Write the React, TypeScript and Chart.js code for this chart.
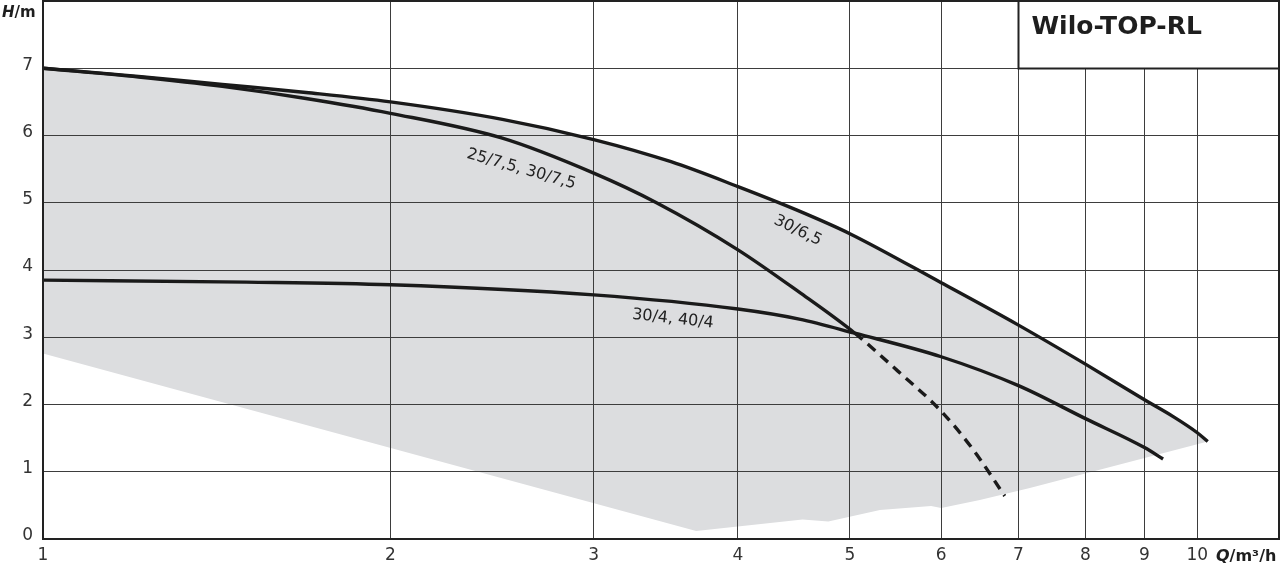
import React, { useEffect, useRef } from "react";
import { Chart, registerables } from "chart.js";

Chart.register(...registerables);

// ---- data ----
const xTicks = [1, 2, 3, 4, 5, 6, 7, 8, 9, 10];
const yTicks = [0, 1, 2, 3, 4, 5, 6, 7, 8];

// 30/6,5
const q65 = [1.0, 1.21, 1.43, 1.69, 2.0, 2.5, 3.0, 3.5, 4.0, 4.5, 5.0, 6.0, 7.0, 8.0, 9.0, 9.53, 10.0, 10.21];
const h65 = [7.0, 6.88, 6.76, 6.64, 6.5, 6.24, 5.94, 5.61, 5.24, 4.89, 4.54, 3.81, 3.18, 2.6, 2.07, 1.82, 1.58, 1.45];

// 25/7,5, 30/7,5 (dashed beyond dashFromQ)
const q75 = [1.0, 1.21, 1.43, 1.69, 2.0, 2.5, 3.0, 3.4, 4.0, 4.52, 5.05, 5.5, 6.0, 6.4, 6.81];
const h75 = [7.0, 6.87, 6.73, 6.55, 6.33, 5.96, 5.44, 5.0, 4.3, 3.67, 3.06, 2.5, 1.9, 1.32, 0.64];
const dashFromQ = 5.05;

// 30/4, 40/4
const q4 = [1.0, 1.5, 2.0, 3.0, 4.0, 4.52, 5.05, 6.0, 7.0, 8.0, 9.0, 9.34];
const h4 = [3.85, 3.82, 3.78, 3.63, 3.42, 3.27, 3.06, 2.71, 2.28, 1.79, 1.36, 1.19];

// lower edge of the grey operating range
const qLow = [1.0, 3.68, 4.55, 4.79, 5.31, 5.88, 6.0, 6.48, 7.16, 10.21];
const hLow = [2.76, 0.12, 0.29, 0.26, 0.43, 0.49, 0.46, 0.58, 0.76, 1.45];

// curve labels
const labelTexts = ["25/7,5, 30/7,5", "30/6,5", "30/4, 40/4"];
const labelQ = [2.59, 4.49, 3.51];
const labelH = [5.44, 4.53, 3.21];
const labelAngle = [16, 26, 6.3];

const titleText = "Wilo-TOP-RL";
const yUnit = ["H", "/m"];
const xUnit = ["Q", "/m³/h"];

const pts = (qs: number[], hs: number[]) => qs.map((q, i) => ({ x: q, y: hs[i] }));

const FONT = '"DejaVu Sans", sans-serif';

const decoPlugin = {
  id: "deco",
  afterDraw(chart: any) {
    const { ctx, chartArea: a, scales } = chart;
    const x = scales.x;
    const y = scales.y;
    ctx.save();

    // curve labels
    ctx.fillStyle = "#222";
    ctx.font = `16px ${FONT}`;
    ctx.textAlign = "center";
    ctx.textBaseline = "alphabetic";
    labelTexts.forEach((t, i) => {
      ctx.save();
      ctx.translate(x.getPixelForValue(labelQ[i]), y.getPixelForValue(labelH[i]));
      ctx.rotate((labelAngle[i] * Math.PI) / 180);
      ctx.fillText(t, 0, 0);
      ctx.restore();
    });

    // plot border
    ctx.strokeStyle = "#222";
    ctx.lineWidth = 2;
    ctx.strokeRect(a.left, a.top, a.right - a.left, a.bottom - a.top);

    // title box
    const bx = Math.round(x.getPixelForValue(7)) + 0.5;
    const by = Math.round(y.getPixelForValue(7)) + 0.5;
    ctx.fillStyle = "#fff";
    ctx.fillRect(bx, a.top, a.right - bx, by - a.top);
    ctx.strokeRect(bx, a.top, a.right - bx, by - a.top);
    ctx.fillStyle = "#1e1e1e";
    ctx.font = `bold 25px ${FONT}`;
    ctx.textAlign = "left";
    ctx.fillText(titleText, bx + 13, 34);

    // axis units
    const drawUnit = (parts: string[], left: number, base: number, size: number) => {
      ctx.fillStyle = "#1e1e1e";
      ctx.textAlign = "left";
      ctx.font = `italic bold ${size}px ${FONT}`;
      ctx.fillText(parts[0], left, base);
      const w = ctx.measureText(parts[0]).width;
      ctx.font = `bold ${size}px ${FONT}`;
      ctx.fillText(parts[1], left + w, base);
    };
    drawUnit(yUnit, 2, 17, 15);
    drawUnit(xUnit, 1216, 561, 16);

    ctx.restore();
  },
};

export default function App() {
  const ref = useRef<HTMLCanvasElement>(null);

  useEffect(() => {
    if (!ref.current) return;
    const chart = new Chart(ref.current, {
      type: "line",
      data: {
        datasets: [
          {
            label: "30/6,5",
            data: pts(q65, h65),
            borderColor: "#1a1a1a",
            borderWidth: 3.4,
            pointRadius: 0,
            cubicInterpolationMode: "monotone",
            fill: 1,
            backgroundColor: "#dcdddf",
          } as any,
          {
            label: "range",
            data: pts(qLow, hLow),
            borderColor: "rgba(0,0,0,0)",
            borderWidth: 1,
            pointRadius: 0,
            tension: 0,
            fill: false,
          },
          {
            label: "25/7,5, 30/7,5",
            data: pts(q75, h75),
            borderColor: "#1a1a1a",
            borderWidth: 3.4,
            pointRadius: 0,
            cubicInterpolationMode: "monotone",
            fill: false,
            segment: {
              borderDash: (c: any) => (c.p0.parsed.x >= dashFromQ - 1e-6 ? [10, 7] : undefined),
            },
          } as any,
          {
            label: "30/4, 40/4",
            data: pts(q4, h4),
            borderColor: "#1a1a1a",
            borderWidth: 3.4,
            pointRadius: 0,
            cubicInterpolationMode: "monotone",
            fill: false,
          },
        ],
      },
      options: {
        responsive: false,
        animation: false,
        devicePixelRatio: 1,
        events: [],
        layout: { padding: { top: 1, right: 1, left: 0, bottom: 0 } },
        plugins: {
          legend: { display: false },
          tooltip: { enabled: false },
          filler: { drawTime: "beforeDraw" } as any,
        },
        scales: {
          x: {
            type: "logarithmic",
            min: 1,
            max: 11.77,
            afterBuildTicks: (s: any) => {
              s.ticks = xTicks.map((v) => ({ value: v }));
            },
            afterFit: (s: any) => {
              s.height = 28;
              s.paddingLeft = 0;
              s.paddingRight = 0;
            },
            grid: { color: "#3d3d3d", lineWidth: 1, drawTicks: false },
            border: { display: false },
            ticks: {
              autoSkip: false,
              maxRotation: 0,
              padding: 6,
              color: "#333",
              font: { family: FONT, size: 17 },
              callback: (v: any) => String(v),
            },
          },
          y: {
            type: "linear",
            min: 0,
            max: 8,
            afterBuildTicks: (s: any) => {
              s.ticks = yTicks.map((v) => ({ value: v }));
            },
            afterFit: (s: any) => {
              s.width = 43;
              s.paddingTop = 0;
              s.paddingBottom = 0;
            },
            grid: { color: "#3d3d3d", lineWidth: 1, drawTicks: false },
            border: { display: false },
            ticks: {
              autoSkip: false,
              padding: 10,
              labelOffset: -3,
              color: "#333",
              font: { family: FONT, size: 17 },
              callback: (v: any) => (v === 8 ? "" : String(v)),
            },
          },
        },
      } as any,
      plugins: [decoPlugin],
    });
    return () => chart.destroy();
  }, []);

  return (
    <div style={{ position: "fixed", left: 0, top: 0, width: 1280, height: 567, background: "#fff" }}>
      <canvas ref={ref} width={1280} height={567} style={{ display: "block", width: 1280, height: 567 }} />
    </div>
  );
}
